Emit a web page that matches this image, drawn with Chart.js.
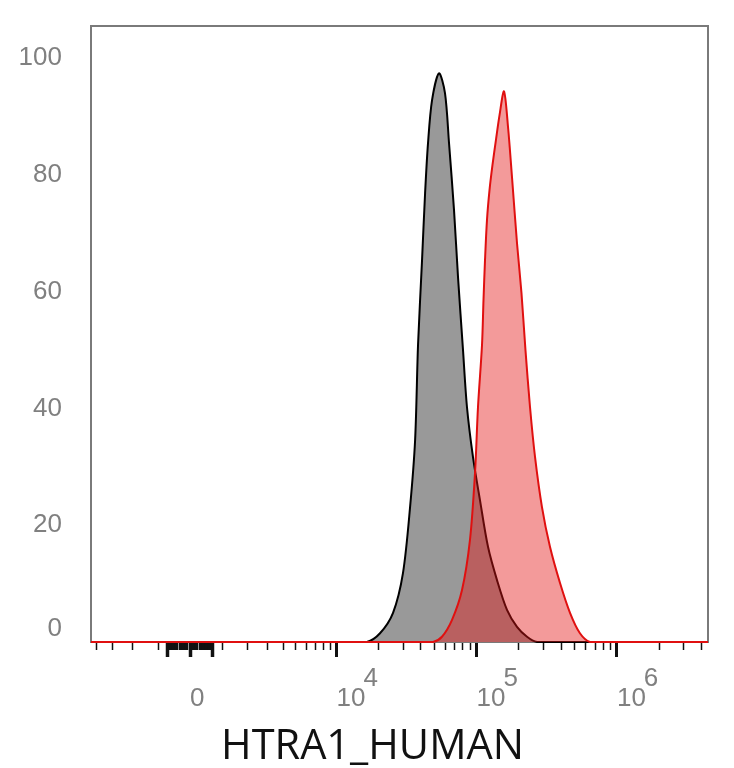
<!DOCTYPE html>
<html>
<head>
<meta charset="utf-8">
<script src="https://cdn.jsdelivr.net/npm/chart.js@4.4.1/dist/chart.umd.min.js"></script>
<style>
  html, body { margin: 0; padding: 0; background: #fff; }
  #wrap { width: 734px; height: 768px; }
</style>
</head>
<body>
<div id="wrap"><canvas id="histo"></canvas></div>
<script>
// histogram values, x in fluorescence units, y in % of max
const grayX = [-4450, 12000, 16500, 20500, 25400, 29900, 33600, 36500, 38300, 40900, 43000, 45100, 48200, 54000,
  59600, 63700, 69100, 73800, 80100, 85500, 94300, 105800, 120700, 139900, 164800, 194200, 228900, 269700, 350000, 4450000];
const grayY = [0, 0, 0, 1.5, 5.0, 11.8, 23.1, 34.6, 50.9, 65.4, 76.9, 85.4, 92.8, 97.4,
  94.0, 85.4, 74.0, 62.5, 50.0, 40.2, 31.7, 24.3, 16.3, 10.6, 5.5, 2.6, 0.9, 0, 0, 0];

const redX = [-4450, 40000, 49000, 56700, 66900, 78800, 89800, 97500, 102400, 109400, 112100, 114900, 118700, 123700, 129900, 137500, 145700, 156900,
  167600, 178900, 194200, 208900, 223100, 240400, 260900, 292400, 333400, 393100, 463100, 545000, 642100, 800000, 4450000];
const redY = [0, 0, 0, 0.9, 3.8, 8.9, 17.5, 28.9, 40.2, 50.9, 58.6, 65.4, 72.3, 77.4, 81.7, 86.0, 90.2, 94.3,
  88.2, 79.6, 68.3, 59.8, 50.0, 40.2, 31.7, 23.1, 16.3, 10.1, 5.0, 1.5, 0, 0, 0];

// axis ticks
const xTicks = [-4000, -3000, -2000, -1000,
  -700, -600, -500, -400, -300, -200, -100, 0, 100, 200, 300, 400, 500, 600, 700,
  1000, 2000, 3000, 4000, 5000, 6000, 7000, 8000, 9000,
  10000, 20000, 30000, 40000, 50000, 60000, 70000, 80000, 90000,
  100000, 200000, 300000, 400000, 500000, 600000, 700000, 800000, 900000,
  1000000, 2000000, 3000000, 4000000];
const xMajor = [10000, 100000, 1000000];
const xLong = [-700, 0, 700, 10000, 100000, 1000000];
const xLabelAt = [0, 10000, 100000, 1000000];
const xLabelBase = ['0', '10', '10', '10'];
const xLabelExp = ['', '4', '5', '6'];
const yTicks = [0, 20, 40, 60, 80, 100];

const X_MIN = -4450, X_MAX = 4450000, COF = 1824;
const tf = v => Math.asinh(v / COF);

// biexponential-like axis (arcsinh)
class BiexScale extends Chart.LinearScale {
  buildTicks() {
    return xTicks.map(v => ({ value: v }));
  }
  getPixelForValue(v) {
    const a = tf(this.min), b = tf(this.max);
    return this.getPixelForDecimal((tf(v) - a) / (b - a));
  }
  getValueForPixel(p) {
    const a = tf(this.min), b = tf(this.max);
    return COF * Math.sinh(a + this.getDecimalForPixel(p) * (b - a));
  }
  _computeGridLineItems(area) {
    const items = super._computeGridLineItems(area);
    const longPx = xLong.map(v => this.getPixelForValue(v));
    items.forEach(it => {
      if (longPx.some(p => Math.abs(p - it.tx1) < 1.2)) it.ty2 += 7;
    });
    return items;
  }
}
BiexScale.id = 'biex';
BiexScale.defaults = {};
Chart.register(BiexScale);

const frame = {
  id: 'frame',
  beforeDatasetsDraw(chart) {
    const { ctx, chartArea: a } = chart;
    ctx.save();
    ctx.strokeStyle = '#7a7a7a';
    ctx.lineWidth = 2;
    ctx.strokeRect(a.left, a.top, a.right - a.left, a.bottom - a.top);
    ctx.restore();
  }
};

const pts = (xs, ys) => xs.map((x, i) => ({ x: x, y: ys[i] }));

new Chart(document.getElementById('histo'), {
  type: 'line',
  data: {
    datasets: [{
      label: 'HTRA1',
      data: pts(redX, redY),
      borderColor: '#e01010',
      backgroundColor: 'rgba(228, 20, 20, 0.43)',
      borderWidth: 2,
      fill: 'origin',
      pointRadius: 0,
      tension: 0.3,
      clip: false
    }, {
      label: 'control',
      data: pts(grayX, grayY),
      borderColor: '#000000',
      backgroundColor: '#999999',
      borderWidth: 2,
      fill: 'origin',
      pointRadius: 0,
      tension: 0.3,
      clip: false
    }]
  },
  options: {
    responsive: true,
    maintainAspectRatio: false,
    animation: false,
    layout: { padding: { top: 26, right: 0, left: 11, bottom: 0 } },
    plugins: {
      legend: { display: false },
      tooltip: { enabled: false },
      title: {
        display: true,
        position: 'bottom',
        text: 'HTRA1_HUMAN',
        color: '#111111',
        font: { family: 'Open Sans', size: 41.5, weight: 'normal', lineHeight: '42px' },
        padding: 0
      }
    },
    scales: {
      x: {
        type: 'biex',
        min: X_MIN,
        max: X_MAX,
        border: { display: false },
        grid: {
          drawOnChartArea: false,
          tickLength: 8,
          tickColor: '#111111',
          tickWidth: ctx => {
            const v = ctx.tick ? ctx.tick.value : NaN;
            if (xMajor.includes(v)) return 3;
            return Math.abs(v) <= 700 ? 3.5 : 1.5;
          }
        },
        ticks: {
          autoSkip: false,
          maxRotation: 0,
          align: 'start',
          padding: 18,
          color: '#808080',
          font: { family: 'Liberation Sans', size: 26, lineHeight: 0.8 },
          callback: v => {
            const i = xLabelAt.indexOf(v);
            if (i < 0) return '';
            return [xLabelExp[i] ? '   \u2009' + xLabelExp[i] : '', xLabelBase[i]];
          }
        },
        afterFit: s => { s.height = 84; s.paddingLeft = 0; s.paddingRight = 0; }
      },
      y: {
        min: 0,
        max: 105.5,
        border: { display: false },
        grid: { display: false, drawTicks: false },
        ticks: {
          padding: 29,
          color: '#808080',
          font: { family: 'Liberation Sans', size: 26, lineHeight: 1.0 },
          callback: v => v === 0 ? ['0', ''] : String(v)
        },
        afterBuildTicks: s => { s.ticks = yTicks.map(v => ({ value: v })); },
        afterFit: s => { s.width = 80; s.paddingTop = 0; s.paddingBottom = 0; }
      },
      yR: {
        position: 'right',
        display: true,
        border: { display: false },
        grid: { display: false, drawTicks: false },
        ticks: { display: false },
        afterFit: s => { s.width = 26; s.paddingTop = 0; s.paddingBottom = 0; }
      }
    }
  },
  plugins: [frame]
});
</script>
</body>
</html>
